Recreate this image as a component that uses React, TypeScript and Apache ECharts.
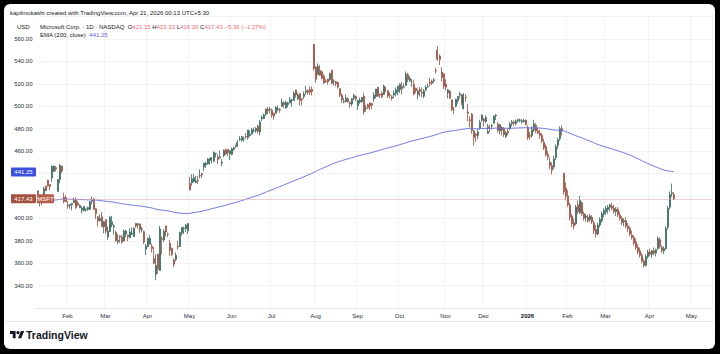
import React, { useEffect, useRef } from "react";
import * as echarts from "echarts";

// ---- calendar ----
const HOLIDAYS = [
  "2025-01-20", "2025-02-17", "2025-04-18", "2025-05-26", "2025-06-19", "2025-07-04",
  "2025-09-01", "2025-11-27", "2025-12-25", "2026-01-01", "2026-01-19", "2026-02-16", "2026-04-03",
];
const FIRST_DATE = "2025-01-10";
const LAST_AXIS_DATE = "2026-05-15";
const MONTH_NAMES = ["Jan", "Feb", "Mar", "Apr", "May", "Jun", "Jul", "Aug", "Sep", "Oct", "Nov", "Dec"];

// ---- daily candles: [open, close, low, high] ----
const jan2025 = [
  [424.6, 418.95, 415.0, 424.7], [415.2, 417.19, 410.7, 418.5], [417.8, 415.67, 411.6, 419.7],
  [419.1, 426.31, 418.8, 428.2], [428.7, 424.58, 424.4, 429.0], [434.1, 429.03, 428.2, 434.5],
  [430.2, 428.5, 425.1, 430.4], [436.0, 446.2, 432.5, 447.3], [442.0, 446.71, 441.4, 446.9],
  [445.2, 444.06, 441.8, 446.7], [424.0, 434.56, 424.0, 435.0], [434.6, 447.2, 431.4, 448.4],
  [446.7, 442.33, 440.4, 446.8], [418.8, 414.99, 413.3, 422.9], [418.5, 415.06, 414.9, 420.7],
];
const feb2025 = [
  [411.6, 410.92, 408.7, 415.4], [411.6, 412.37, 408.5, 413.0], [412.4, 413.29, 407.1, 413.8],
  [414.0, 415.82, 414.0, 418.2], [416.5, 409.75, 408.1, 418.7], [413.7, 412.22, 410.7, 415.5],
  [409.6, 411.44, 409.3, 412.5], [407.3, 409.04, 404.4, 410.8], [407.0, 410.54, 406.0, 411.0],
  [407.8, 408.43, 405.9, 408.9], [408.0, 409.64, 406.5, 410.6], [407.9, 414.77, 407.7, 415.5],
  [415.3, 416.13, 412.5, 419.3], [417.3, 408.21, 407.9, 418.0], [408.5, 404.0, 399.3, 409.4],
  [401.3, 397.9, 392.8, 402.0], [398.0, 399.73, 397.2, 403.6], [401.3, 392.53, 392.3, 405.7],
  [392.7, 396.99, 386.6, 397.6],
];
const mar2025 = [
  [398.8, 388.49, 386.2, 398.8], [383.4, 388.61, 381.0, 392.5], [388.3, 401.02, 387.9, 401.9],
  [394.3, 396.89, 392.0, 402.2], [392.3, 393.31, 385.5, 394.8], [387.5, 380.16, 379.0, 389.2],
  [379.0, 380.45, 376.9, 386.0], [384.0, 383.27, 378.0, 385.0], [383.2, 378.77, 377.4, 385.4],
  [379.8, 388.56, 379.5, 390.0], [386.0, 388.7, 383.0, 389.9], [385.2, 383.52, 379.5, 385.6],
  [382.8, 387.82, 382.0, 391.0], [385.9, 386.84, 385.0, 391.8], [383.9, 391.26, 383.5, 392.0],
  [395.6, 393.08, 391.7, 395.6], [394.3, 395.16, 390.9, 395.3], [395.0, 389.97, 386.7, 395.3],
  [390.1, 390.58, 387.4, 392.3], [388.1, 378.8, 376.9, 389.1], [372.5, 375.39, 367.2, 377.1],
];
const apr2025 = [
  [374.7, 382.19, 374.3, 383.0], [377.0, 382.14, 376.6, 385.1], [374.8, 373.11, 369.4, 377.5],
  [364.1, 359.84, 359.5, 374.6], [350.0, 357.86, 344.8, 368.0], [368.0, 354.56, 350.5, 368.4],
  [353.5, 390.49, 353.1, 393.2], [382.1, 381.35, 367.8, 383.9], [380.6, 388.45, 378.9, 390.2],
  [393.2, 387.81, 383.7, 393.4], [386.0, 385.73, 383.0, 387.3], [377.6, 371.61, 366.6, 380.9],
  [373.0, 367.78, 366.1, 374.0], [362.8, 359.12, 356.3, 364.5], [363.4, 366.82, 361.6, 369.7],
  [375.0, 374.39, 372.0, 380.0], [375.0, 387.3, 374.3, 388.1], [387.0, 391.85, 384.5, 392.2],
  [391.0, 391.16, 385.9, 392.5], [390.9, 394.04, 388.0, 395.0], [389.0, 395.26, 386.1, 396.0],
];
const may2025 = [
  [431.1, 425.4, 424.9, 437.0], [431.7, 435.28, 429.2, 439.4], [432.9, 436.17, 432.1, 439.5],
  [432.2, 433.31, 431.2, 437.7], [433.8, 433.35, 430.5, 438.1], [437.9, 438.17, 435.7, 443.7],
  [440.0, 438.73, 435.9, 440.7], [445.9, 449.26, 442.1, 449.4], [447.8, 449.14, 445.0, 450.7],
  [448.5, 452.94, 448.0, 453.9], [451.7, 453.13, 447.7, 453.8], [452.0, 454.27, 448.9, 454.4],
  [450.8, 458.87, 450.8, 459.6], [458.0, 458.17, 454.3, 458.3], [454.6, 452.57, 448.6, 457.1],
  [454.0, 454.86, 453.3, 460.3], [449.3, 450.18, 446.5, 453.0], [456.0, 460.69, 454.4, 461.4],
  [461.2, 457.36, 456.9, 462.5], [461.6, 458.68, 455.3, 461.7], [457.5, 460.36, 452.0, 461.0],
];
const jun2025 = [
  [457.1, 461.97, 456.4, 463.3], [461.5, 462.97, 460.4, 464.1], [464.0, 463.87, 463.0, 465.7],
  [464.3, 467.68, 464.0, 469.7], [470.1, 470.38, 468.8, 473.3], [469.7, 472.75, 468.6, 473.4],
  [470.9, 470.92, 468.3, 473.0], [473.3, 472.62, 471.2, 476.1], [472.0, 478.87, 470.2, 478.9],
  [473.9, 474.96, 473.0, 478.3], [475.1, 479.14, 475.0, 480.7], [478.0, 478.04, 476.7, 481.0],
  [478.1, 480.24, 476.3, 481.4], [482.5, 477.4, 475.6, 483.5], [477.0, 486.0, 474.0, 487.8],
  [488.9, 490.11, 486.8, 491.9], [489.0, 492.27, 488.8, 493.6], [492.9, 497.45, 491.4, 498.0],
  [497.6, 495.94, 493.0, 499.3], [497.0, 497.41, 493.5, 499.4],
];
const jul2025 = [
  [496.5, 492.05, 489.8, 498.0], [493.7, 491.09, 488.0, 494.2], [493.8, 498.84, 493.4, 500.1],
  [497.0, 497.72, 495.8, 500.8], [497.2, 496.62, 494.1, 498.2], [500.0, 503.51, 499.5, 506.8],
  [503.0, 501.48, 498.3, 504.4], [498.5, 503.32, 497.8, 505.0], [501.5, 503.02, 499.0, 503.9],
  [503.0, 505.82, 502.8, 508.3], [505.2, 505.62, 499.7, 506.8], [505.2, 511.7, 505.0, 513.4],
  [514.5, 510.05, 507.8, 514.6], [506.7, 510.06, 505.6, 512.1], [511.4, 505.27, 500.5, 511.4],
  [506.7, 505.87, 500.7, 506.8], [508.8, 510.88, 506.6, 513.4], [512.5, 513.71, 510.4, 518.3],
  [514.1, 512.5, 510.1, 515.0], [515.0, 512.57, 510.1, 517.6], [515.0, 513.24, 509.5, 517.7],
  [555.2, 533.5, 531.9, 555.5],
];
const aug2025 = [
  [535.0, 524.11, 520.9, 535.8], [528.3, 535.64, 528.1, 538.3], [532.0, 527.75, 527.2, 537.0],
  [530.9, 524.94, 524.0, 531.7], [526.9, 520.84, 519.6, 528.4], [522.6, 522.04, 520.9, 524.4],
  [524.3, 521.77, 519.2, 524.6], [523.8, 529.24, 522.7, 530.0], [532.1, 520.58, 519.6, 532.7],
  [522.4, 522.48, 518.4, 524.0], [522.0, 520.17, 517.7, 522.7], [521.2, 517.1, 515.9, 521.9],
  [515.7, 509.77, 508.2, 516.0], [509.9, 505.72, 502.9, 511.3], [503.7, 504.24, 502.6, 507.3],
  [504.3, 507.23, 503.6, 510.6], [506.6, 504.26, 503.3, 508.2], [503.5, 502.04, 498.5, 504.3],
  [502.0, 506.74, 499.9, 507.3], [507.1, 509.64, 505.5, 511.1], [508.7, 506.69, 504.5, 509.6],
];
const sep2025 = [
  [500.5, 505.12, 496.7, 506.0], [503.8, 505.35, 502.3, 507.8], [504.3, 507.97, 503.0, 508.2],
  [509.1, 495.0, 492.4, 512.0], [498.1, 498.2, 495.0, 501.2], [501.4, 498.41, 497.7, 502.2],
  [502.9, 500.37, 496.7, 503.2], [502.3, 501.01, 497.1, 503.2], [506.6, 509.9, 503.9, 512.6],
  [508.8, 515.36, 507.0, 515.5], [516.9, 509.04, 508.6, 517.2], [510.6, 510.02, 507.4, 511.3],
  [511.5, 508.45, 507.3, 513.1], [510.6, 517.93, 510.3, 519.3], [515.6, 514.45, 512.5, 517.7],
  [513.8, 509.23, 507.3, 514.6], [510.4, 510.15, 506.9, 512.5], [508.3, 507.03, 505.0, 510.0],
  [510.1, 511.46, 507.3, 513.9], [511.5, 514.6, 508.8, 516.9], [513.2, 517.95, 509.7, 518.2],
];
const oct2025 = [
  [514.8, 519.71, 511.7, 520.5], [517.6, 515.74, 510.7, 521.6], [517.1, 517.35, 515.9, 520.5],
  [518.6, 528.57, 518.2, 531.0], [528.3, 523.98, 521.4, 529.8], [523.3, 524.85, 521.6, 526.9],
  [522.3, 522.4, 517.4, 524.3], [519.6, 510.96, 509.7, 523.6], [516.4, 514.05, 511.7, 516.4],
  [510.2, 513.57, 506.0, 515.3], [514.9, 513.43, 508.7, 517.2], [512.6, 511.61, 508.1, 516.9],
  [509.0, 513.58, 507.3, 515.5], [514.6, 516.79, 513.4, 518.7], [517.5, 517.66, 516.4, 520.2],
  [521.2, 520.54, 517.7, 525.2], [522.5, 520.56, 518.9, 523.8], [522.8, 523.61, 520.7, 525.3],
  [531.8, 531.52, 529.1, 534.6], [550.0, 542.07, 540.4, 553.7], [544.9, 541.55, 536.8, 546.3],
  [530.5, 525.76, 522.1, 534.9], [528.9, 517.81, 515.4, 529.3],
];
const nov2025 = [
  [519.8, 517.03, 514.0, 524.0], [511.8, 514.33, 507.1, 515.6], [513.3, 507.16, 506.6, 514.8],
  [505.7, 497.1, 495.8, 505.7], [496.9, 496.82, 493.0, 499.4], [500.0, 506.0, 498.9, 506.9],
  [505.0, 508.68, 502.4, 509.0], [510.0, 511.1, 507.0, 513.0], [510.0, 503.29, 501.0, 511.0],
  [498.0, 510.18, 497.0, 511.7], [508.0, 507.49, 504.0, 511.0], [495.0, 493.79, 486.8, 502.0],
  [488.0, 487.12, 481.0, 491.0], [493.0, 478.43, 475.5, 494.0], [478.0, 472.12, 464.9, 478.9],
  [475.0, 474.0, 468.0, 476.0], [474.0, 476.99, 470.5, 479.8], [480.5, 485.5, 479.0, 488.0],
  [487.6, 492.01, 486.0, 492.6],
];
const dec2025 = [
  [488.4, 486.74, 482.0, 489.9], [486.5, 490.0, 485.0, 492.0], [476.0, 477.73, 475.2, 484.2],
  [482.0, 480.84, 477.0, 483.5], [482.5, 483.16, 479.3, 484.0], [484.9, 491.02, 484.5, 492.0],
  [491.5, 492.02, 487.7, 493.0], [484.0, 478.56, 476.5, 486.0], [478.0, 483.47, 475.1, 484.5],
  [481.0, 478.53, 474.0, 482.0], [480.0, 474.82, 472.5, 481.3], [473.0, 476.39, 471.5, 478.0],
  [477.5, 476.12, 474.0, 480.0], [480.0, 483.98, 478.8, 486.0], [484.5, 485.92, 482.0, 487.8],
  [486.0, 484.92, 482.5, 487.5], [484.5, 486.85, 483.0, 488.0], [487.0, 488.02, 485.7, 489.0],
  [487.5, 487.71, 485.5, 489.0], [486.0, 487.1, 484.5, 488.5], [486.5, 487.48, 485.5, 489.0],
  [487.5, 483.62, 483.0, 488.0],
];
const jan2026 = [
  [481, 472, 470, 483], [474, 473, 470, 477], [474, 479, 472, 482], [479, 484, 477, 488],
  [483, 478, 476, 485], [478, 476, 475, 481], [476, 474, 471, 479], [474, 469, 467, 476],
  [468, 463, 461, 471], [464, 457, 455, 466], [457, 455, 452, 460], [450, 447, 444, 455],
  [447, 443, 439, 450], [446, 453, 444, 456], [454, 464, 452, 466], [465, 470, 462, 472],
  [471, 480, 469, 482], [480, 478, 474, 483], [440, 424, 421, 441], [427, 420, 416, 432],
];
const feb2026 = [
  [420, 412, 410, 425], [412, 401, 398, 414], [402, 395, 392, 404], [396, 393, 390, 400],
  [395, 410, 394, 412], [412, 406, 404, 416], [405, 416, 404, 420], [414, 404, 402, 415],
  [404, 400, 398, 406], [401, 402, 397, 404], [401, 398, 396, 403], [399, 402, 397, 404],
  [401, 397, 395, 403], [396, 389, 386, 398], [390, 386, 383, 394], [386, 394, 385, 396],
  [394, 399, 392, 401], [398, 404, 396, 406], [404, 407, 401, 409],
];
const mar2026 = [
  [406, 409, 403, 411], [408, 410, 404, 412], [410, 412, 406, 413], [411, 409, 407, 414],
  [409, 406, 404, 412], [406, 408, 402, 410], [408, 403, 401, 410], [403, 400, 398, 406],
  [400, 396, 394, 402], [397, 398, 393, 400], [398, 393, 391, 401], [393, 391, 388, 396],
  [391, 386, 384, 393], [385, 383, 381, 389], [383, 378, 376, 385], [379, 374, 372, 382],
  [374, 370, 368, 377], [371, 367, 365, 374], [367, 362, 360, 369], [362, 358, 356, 364],
  [358, 366, 357, 368], [366, 370, 364, 372],
];
const apr2026 = [
  [370, 368, 366, 373], [368, 371, 365, 372], [371, 369, 367, 374], [369, 372, 366, 373],
  [373, 382, 372, 384], [381, 375, 373, 383], [374, 371, 369, 376], [371, 373, 368, 375],
  [373, 391, 372, 393], [392, 409, 390, 411], [410, 421, 408, 424], [422, 422.79, 419, 431],
  [421.15, 417.43, 416.3, 423.33],
];

const LAST_BAR = { open: 421.15, high: 423.33, low: 416.3, close: 417.43, change: -5.36, changePct: -1.27 };
const EMA_PERIOD = 200;
const EMA_SEED = 415.0; // EMA value read at the first visible bar
const EMA_LAST = 441.25;
const Y_MIN = 320;
const Y_MAX = 580;
const Y_STEP = 20;

const OHLC = [
  ...jan2025, ...feb2025, ...mar2025, ...apr2025, ...may2025, ...jun2025, ...jul2025, ...aug2025,
  ...sep2025, ...oct2025, ...nov2025, ...dec2025, ...jan2026, ...feb2026, ...mar2026, ...apr2026,
];

function buildDates(): string[] {
  const out: string[] = [];
  const d = new Date(FIRST_DATE + "T00:00:00Z");
  const end = new Date(LAST_AXIS_DATE + "T00:00:00Z");
  while (d.getTime() <= end.getTime()) {
    const wd = d.getUTCDay();
    const s = d.toISOString().slice(0, 10);
    if (wd !== 0 && wd !== 6 && HOLIDAYS.indexOf(s) < 0) out.push(s);
    d.setUTCDate(d.getUTCDate() + 1);
  }
  return out;
}

function emaOf(rows: number[][]): number[] {
  const a = 2 / (EMA_PERIOD + 1);
  let e = EMA_SEED;
  return rows.map((r) => {
    e = a * r[1] + (1 - a) * e;
    return Math.round(e * 100) / 100;
  });
}

const FONT = "Liberation Sans, Arial, sans-serif";

export default function App() {
  const ref = useRef<HTMLDivElement>(null);

  useEffect(() => {
    if (!ref.current) return;
    const chart = echarts.init(ref.current, undefined, { renderer: "svg" });
    const dates = buildDates();
    const isMonthStart = dates.map((d, i) => i > 0 && d.slice(0, 7) !== dates[i - 1].slice(0, 7));
    const ema = emaOf(OHLC);
    const up = "#38695f";
    const down = "#9c5240";
    // price-scale labels hidden behind the value tags, as on the reference
    const hiddenNear = [EMA_LAST, LAST_BAR.close];

    chart.setOption({
      animation: false,
      backgroundColor: "transparent",
      textStyle: { fontFamily: FONT },
      grid: { left: 36.5, right: 7.5, top: 16.6, bottom: 46 },
      xAxis: {
        type: "category",
        data: dates,
        boundaryGap: true,
        axisLine: { show: true, lineStyle: { color: "#e4e6ec" } },
        axisTick: { show: false },
        axisLabel: {
          interval: (i: number) => isMonthStart[i],
          formatter: (v: string) => {
            const m = parseInt(v.slice(5, 7), 10);
            return m === 1 ? "{b|" + v.slice(0, 4) + "}" : MONTH_NAMES[m - 1];
          },
          fontSize: 6,
          color: "#2a2e39",
          margin: 5,
          fontFamily: FONT,
          rich: { b: { fontWeight: "bold", fontSize: 6, color: "#131722", fontFamily: FONT } },
        },
        splitLine: { show: true, interval: (i: number) => isMonthStart[i], lineStyle: { color: "#f2f3f6", width: 1 } },
      },
      yAxis: {
        type: "value",
        position: "left",
        min: Y_MIN,
        max: Y_MAX,
        interval: Y_STEP,
        axisLine: { show: false },
        axisTick: { show: false },
        axisLabel: {
          formatter: (v: number) =>
            v === Y_MIN || v === Y_MAX || hiddenNear.some((h) => Math.abs(h - v) < 6) ? "" : v.toFixed(2),
          fontSize: 6,
          color: "#2a2e39",
          margin: 4,
          fontFamily: FONT,
        },
        splitLine: { show: true, lineStyle: { color: "#f2f3f6", width: 1 } },
      },
      series: [
        {
          type: "candlestick",
          data: OHLC,
          barWidth: "75%",
          itemStyle: { color: up, color0: down, borderColor: up, borderColor0: down, borderWidth: 0.8 },
          markLine: {
            silent: true,
            symbol: "none",
            label: { show: false },
            lineStyle: { color: "#dba0a0", type: "dotted", width: 1 },
            data: [{ yAxis: LAST_BAR.close }],
          },
          z: 2,
        },
        {
          type: "line",
          data: ema,
          showSymbol: false,
          symbol: "none",
          lineStyle: { color: "#6c72de", width: 1 },
          z: 3,
        },
      ],
    });

    const yEma = chart.convertToPixel({ yAxisIndex: 0 }, EMA_LAST) as number;
    const yLast = chart.convertToPixel({ yAxisIndex: 0 }, LAST_BAR.close) as number;
    const tagH = 9;
    const f = (n: number) => n.toFixed(2);
    const chg = (LAST_BAR.change < 0 ? "\u2212" : "+") + Math.abs(LAST_BAR.change).toFixed(2);
    const pct = (LAST_BAR.changePct < 0 ? "\u2212" : "+") + Math.abs(LAST_BAR.changePct).toFixed(2) + "%";

    echarts.graphic.registerShape(
      "tvlogo",
      echarts.graphic.extendPath("M14 22H7V11H0V4h14v18zM28 22h-8l7.5-18h8L28 22z", {}) as any
    );

    chart.setOption({
      graphic: [
        { type: "line", shape: { x1: 5, y1: 321.5, x2: 714, y2: 321.5 }, style: { stroke: "#e4e6ec", lineWidth: 1 }, silent: true },
        {
          type: "text", x: 10, y: 13,
          style: { text: "kapilmokashi created with TradingView.com, Apr 21, 2026 00:13 UTC+5:30", fill: "#131722", font: "6px " + FONT, verticalAlign: "middle" },
        },
        { type: "text", x: 17, y: 27, style: { text: "USD", fill: "#131722", font: "6px " + FONT, verticalAlign: "middle" } },
        {
          type: "text", x: 40, y: 27,
          style: {
            text:
              "Microsoft Corp. \u00b7 1D \u00b7 NASDAQ  {k|O}{v|" + f(LAST_BAR.open) + "} {k|H}{v|" + f(LAST_BAR.high) +
              "} {k|L}{v|" + f(LAST_BAR.low) + "} {k|C}{v|" + f(LAST_BAR.close) + "} {v|" + chg + " (" + pct + ")}",
            fill: "#131722",
            font: "6px " + FONT,
            verticalAlign: "middle",
            rich: {
              k: { fill: "#131722", fontSize: 6, fontFamily: FONT },
              v: { fill: "#ee6b73", fontSize: 6, fontFamily: FONT },
            },
          },
        },
        {
          type: "text", x: 40, y: 35,
          style: {
            text: "EMA (200, close)  {e|" + f(EMA_LAST) + "}",
            fill: "#131722",
            font: "6px " + FONT,
            verticalAlign: "middle",
            rich: { e: { fill: "#5b63e6", fontSize: 6, fontFamily: FONT } },
          },
        },
        { type: "rect", shape: { x: 11, y: yEma - tagH / 2, width: 25, height: tagH, r: 1 }, style: { fill: "#3d50de" }, z: 10 },
        { type: "text", x: 23.5, y: yEma, style: { text: f(EMA_LAST), fill: "#ffffff", font: "6px " + FONT, align: "center", verticalAlign: "middle" }, z: 11 },
        { type: "rect", shape: { x: 11, y: yLast - tagH / 2, width: 25, height: tagH, r: 1 }, style: { fill: "#a5513f" }, z: 10 },
        { type: "text", x: 23.5, y: yLast, style: { text: f(LAST_BAR.close), fill: "#ffffff", font: "6px " + FONT, align: "center", verticalAlign: "middle" }, z: 11 },
        { type: "rect", shape: { x: 37, y: yLast - tagH / 2, width: 17, height: tagH, r: 1 }, style: { fill: "#b85c4a" }, z: 10 },
        { type: "text", x: 45.5, y: yLast, style: { text: "MSFT", fill: "#ffffff", font: "6px " + FONT, align: "center", verticalAlign: "middle" }, z: 11 },
        { type: "tvlogo", x: 10, y: 329.5, scaleX: 0.4, scaleY: 0.4, style: { fill: "#131722" } },
        { type: "circle", shape: { cx: 10 + 20 * 0.4, cy: 329.5 + 8 * 0.4, r: 4 * 0.4 }, style: { fill: "#131722" } },
        { type: "text", x: 26, y: 335, style: { text: "TradingView", fill: "#131722", font: "bold 10.5px " + FONT, verticalAlign: "middle" } },
      ],
    });

    return () => chart.dispose();
  }, []);

  return (
    <div style={{ position: "fixed", left: 0, top: 0, width: 720, height: 354, background: "#000" }}>
      <div style={{ position: "absolute", left: 4, top: 4, width: 711, height: 345, background: "#fff", borderRadius: 6 }} />
      <div ref={ref} style={{ position: "absolute", left: 0, top: 0, width: 720, height: 354 }} />
    </div>
  );
}
